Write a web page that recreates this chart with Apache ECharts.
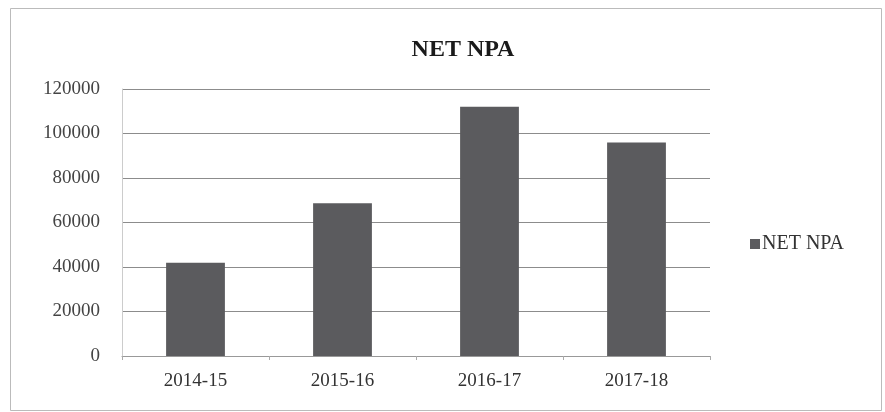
<!DOCTYPE html>
<html>
<head>
<meta charset="utf-8">
<script src="https://cdn.jsdelivr.net/npm/echarts@6/dist/echarts.min.js"></script>
<style>
  html, body { margin: 0; padding: 0; background: #fff; }
  #main { width: 885px; height: 412px; }
</style>
</head>
<body>
<div id="main"></div>
<script>
var years = ['2014-15', '2015-16', '2016-17', '2017-18']
var netNpa = [41900, 68600, 112000, 95900]
var yTicks = [0, 20000, 40000, 60000, 80000, 100000, 120000]

var serif = '"Liberation Serif", "DejaVu Serif", serif'

var myChart = echarts.init(document.getElementById('main'))
myChart.setOption({
    backgroundColor: '#fff',
    animation: false,
    title: {
        text: 'NET NPA',
        left: 458,
        textAlign: 'center',
        top: 33,
        textStyle: { fontFamily: serif, fontSize: 24, fontWeight: 'bold', color: '#1a1a1a' }
    },
    legend: {
        data: ['NET NPA'],
        orient: 'vertical',
        left: 745,
        top: 229,
        icon: 'rect',
        itemWidth: 10,
        itemHeight: 10,
        itemGap: 4,
        textStyle: { fontFamily: serif, fontSize: 20, color: '#333', padding: [0, 0, 0, -3] }
    },
    grid: { left: 122, right: 175, top: 89, bottom: 56 },
    xAxis: {
        type: 'category',
        data: years,
        axisLine: { lineStyle: { color: '#999', width: 1 } },
        axisTick: { show: true, length: 4, lineStyle: { color: '#aaa' } },
        axisLabel: { fontFamily: serif, fontSize: 19, color: '#333', margin: 16 }
    },
    yAxis: {
        type: 'value',
        min: yTicks[0],
        max: yTicks[yTicks.length - 1],
        interval: 20000,
        axisLine: { show: true, lineStyle: { color: '#ccc' } },
        axisTick: { show: false },
        axisLabel: {
            fontFamily: serif, fontSize: 19, color: '#444', margin: 22,
            formatter: function (v) { return String(v) }
        },
        splitLine: { show: true, lineStyle: { color: '#8c8c8c', width: 1 } }
    },
    series: [{
        name: 'NET NPA',
        type: 'bar',
        data: netNpa,
        barWidth: '40%',
        itemStyle: { color: '#5b5b5e' }
    }],
    graphic: [{
        type: 'rect',
        shape: { x: 10.5, y: 8.5, width: 871, height: 402 },
        style: { fill: null, stroke: '#bbb', lineWidth: 1 },
        silent: true
    }]
})
</script>
</body>
</html>
